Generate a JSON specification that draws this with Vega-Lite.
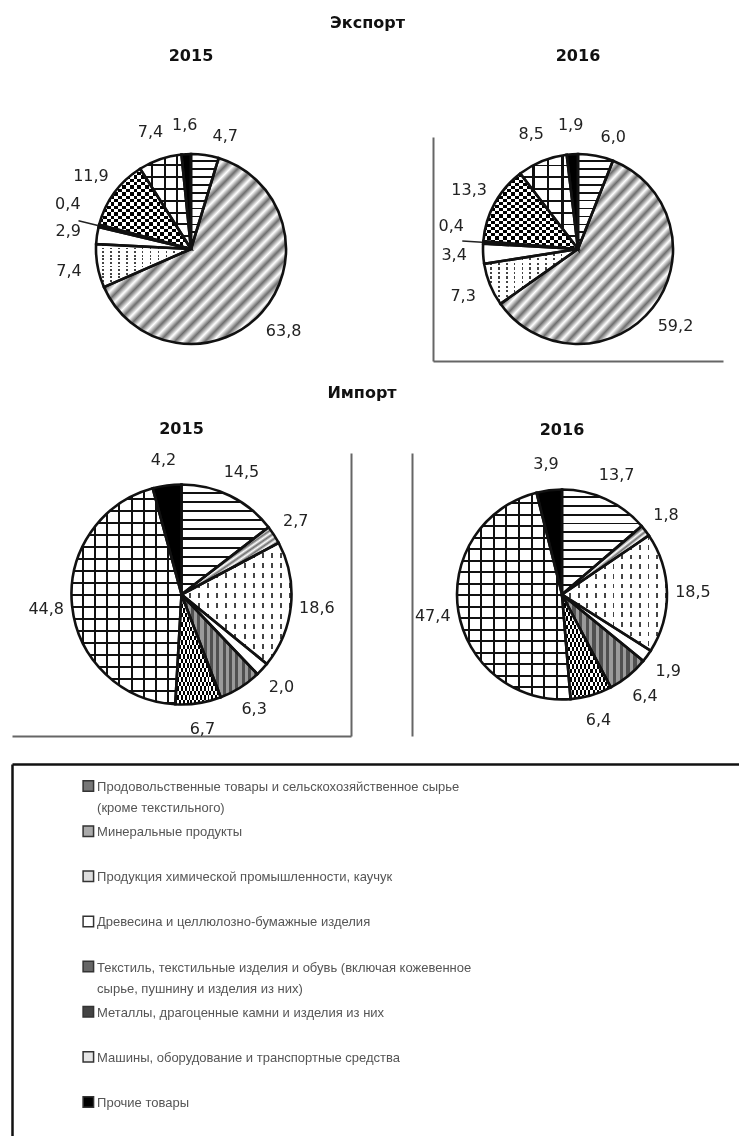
{
"$schema": "https://vega.github.io/schema/vega-lite/v6.json",
"background": "white",
"padding": {"left": 12, "top": 15, "right": 0, "bottom": 0},
"spacing": 21,
"datasets": {
"pies": [
{"chart":"E2015","k":1,"v":4.7,"lbl":"4,7"},{"chart":"E2015","k":2,"v":63.8,"lbl":"63,8"},{"chart":"E2015","k":3,"v":7.4,"lbl":"7,4"},{"chart":"E2015","k":4,"v":2.9,"lbl":"2,9"},{"chart":"E2015","k":5,"v":0.4,"lbl":"0,4"},{"chart":"E2015","k":6,"v":11.9,"lbl":"11,9"},{"chart":"E2015","k":7,"v":7.4,"lbl":"7,4"},{"chart":"E2015","k":8,"v":1.6,"lbl":"1,6"},
{"chart":"E2016","k":1,"v":6.0,"lbl":"6,0"},{"chart":"E2016","k":2,"v":59.2,"lbl":"59,2"},{"chart":"E2016","k":3,"v":7.3,"lbl":"7,3"},{"chart":"E2016","k":4,"v":3.4,"lbl":"3,4"},{"chart":"E2016","k":5,"v":0.4,"lbl":"0,4"},{"chart":"E2016","k":6,"v":13.3,"lbl":"13,3"},{"chart":"E2016","k":7,"v":8.5,"lbl":"8,5"},{"chart":"E2016","k":8,"v":1.9,"lbl":"1,9"},
{"chart":"I2015","k":1,"v":14.5,"lbl":"14,5"},{"chart":"I2015","k":2,"v":2.7,"lbl":"2,7"},{"chart":"I2015","k":3,"v":18.6,"lbl":"18,6"},{"chart":"I2015","k":4,"v":2.0,"lbl":"2,0"},{"chart":"I2015","k":5,"v":6.3,"lbl":"6,3"},{"chart":"I2015","k":6,"v":6.7,"lbl":"6,7"},{"chart":"I2015","k":7,"v":44.8,"lbl":"44,8"},{"chart":"I2015","k":8,"v":4.2,"lbl":"4,2"},
{"chart":"I2016","k":1,"v":13.7,"lbl":"13,7"},{"chart":"I2016","k":2,"v":1.8,"lbl":"1,8"},{"chart":"I2016","k":3,"v":18.5,"lbl":"18,5"},{"chart":"I2016","k":4,"v":1.9,"lbl":"1,9"},{"chart":"I2016","k":5,"v":6.4,"lbl":"6,4"},{"chart":"I2016","k":6,"v":6.4,"lbl":"6,4"},{"chart":"I2016","k":7,"v":47.4,"lbl":"47,4"},{"chart":"I2016","k":8,"v":3.9,"lbl":"3,9"}
],
"leg": [
{"k":1,"name":["Продовольственные товары и сельскохозяйственное сырье","(кроме текстильного)"]},
{"k":2,"name":["Минеральные продукты"]},
{"k":3,"name":["Продукция химической промышленности, каучук"]},
{"k":4,"name":["Древесина и целлюлозно-бумажные изделия"]},
{"k":5,"name":["Текстиль, текстильные изделия и обувь (включая кожевенное","сырье, пушнину и изделия из них)"]},
{"k":6,"name":["Металлы, драгоценные камни и изделия из них"]},
{"k":7,"name":["Машины, оборудование и транспортные средства"]},
{"k":8,"name":["Прочие товары"]}
]
},
"vconcat": [
{
"title": {"text": "Экспорт", "offset": 17},
"spacing": 62,
"hconcat": [
{
"width": 358, "height": 224,
"title": {"text": "2015", "offset": 53},
"data": {"name": "pies"},
"transform": [
{"filter": "datum.chart == 'E2015'"},
{"stack": "v", "groupby": ["chart"], "sort": [{"field": "k", "order": "ascending"}], "as": ["v0", "v1"], "offset": "normalize"},
{"calculate": "(datum.v0 + datum.v1) / 2", "as": "vm"}
],
"layer": [
{"encoding": {"theta": {"field": "v0", "type": "quantitative", "scale": {"domain": [0, 1]}}, "theta2": {"field": "v1"}, "radius": {"value": 95}},
"layer": [
{"transform": [{"filter": "datum.k == 1"}], "mark": {"type": "arc", "style": "p1"}},
{"transform": [{"filter": "datum.k == 2"}], "mark": {"type": "arc", "style": "p2"}},
{"transform": [{"filter": "datum.k == 3"}], "mark": {"type": "arc", "style": "p3"}},
{"transform": [{"filter": "datum.k == 4"}], "mark": {"type": "arc", "style": "p4"}},
{"transform": [{"filter": "datum.k == 5"}], "mark": {"type": "arc", "style": "p5"}},
{"transform": [{"filter": "datum.k == 6"}], "mark": {"type": "arc", "style": "p6"}},
{"transform": [{"filter": "datum.k == 7"}], "mark": {"type": "arc", "style": "p7e"}},
{"transform": [{"filter": "datum.k == 8"}], "mark": {"type": "arc", "style": "p8"}},
{"transform": [{"filter": "datum.k == 3"}], "mark": {"type": "arc", "style": "o3"}},
{"transform": [{"filter": "datum.k == 6"}], "mark": {"type": "arc", "style": "o6"}},
{"transform": [{"filter": "datum.k == 7"}], "mark": {"type": "arc", "style": "o7e"}},
{"mark": {"type": "arc", "fill": "transparent", "stroke": "#111", "strokeWidth": 2.6}}
]},
{"transform": [{"filter": "datum.k != 5 && datum.k != 1"}], "mark": {"type": "text", "font": "DejaVu Sans", "fontSize": 16, "color": "#222"}, "encoding": {"theta": {"field": "vm", "type": "quantitative", "scale": {"domain": [0, 1]}}, "radius": {"value": 124}, "text": {"field": "lbl", "type": "nominal"}}},
{"transform": [{"filter": "datum.k == 1"}], "mark": {"type": "text", "font": "DejaVu Sans", "fontSize": 16, "color": "#222", "dx": 16, "dy": 10}, "encoding": {"theta": {"field": "vm", "type": "quantitative", "scale": {"domain": [0, 1]}}, "radius": {"value": 124}, "text": {"field": "lbl", "type": "nominal"}}},
{"transform": [{"filter": "datum.k == 5"}], "mark": {"type": "text", "font": "DejaVu Sans", "fontSize": 16, "color": "#222", "dy": -14}, "encoding": {"theta": {"field": "vm", "type": "quantitative", "scale": {"domain": [0, 1]}}, "radius": {"value": 127}, "text": {"field": "lbl", "type": "nominal"}}},
{"transform": [{"filter": "datum.k == 5"}], "mark": {"type": "arc", "fill": "transparent", "stroke": "#222", "strokeWidth": 1.5}, "encoding": {"theta": {"field": "vm", "type": "quantitative", "scale": {"domain": [0, 1]}}, "theta2": {"field": "vm"}, "radius": {"value": 116}, "radius2": {"value": 96}}}
]
},
{
"width": 290, "height": 224,
"title": {"text": "2016", "offset": 53},
"data": {"name": "pies"},
"transform": [
{"filter": "datum.chart == 'E2016'"},
{"stack": "v", "groupby": ["chart"], "sort": [{"field": "k", "order": "ascending"}], "as": ["v0", "v1"], "offset": "normalize"},
{"calculate": "(datum.v0 + datum.v1) / 2", "as": "vm"}
],
"layer": [
{"encoding": {"theta": {"field": "v0", "type": "quantitative", "scale": {"domain": [0, 1]}}, "theta2": {"field": "v1"}, "radius": {"value": 95}},
"layer": [
{"transform": [{"filter": "datum.k == 1"}], "mark": {"type": "arc", "style": "p1"}},
{"transform": [{"filter": "datum.k == 2"}], "mark": {"type": "arc", "style": "p2"}},
{"transform": [{"filter": "datum.k == 3"}], "mark": {"type": "arc", "style": "p3"}},
{"transform": [{"filter": "datum.k == 4"}], "mark": {"type": "arc", "style": "p4"}},
{"transform": [{"filter": "datum.k == 5"}], "mark": {"type": "arc", "style": "p5"}},
{"transform": [{"filter": "datum.k == 6"}], "mark": {"type": "arc", "style": "p6"}},
{"transform": [{"filter": "datum.k == 7"}], "mark": {"type": "arc", "style": "p7e"}},
{"transform": [{"filter": "datum.k == 8"}], "mark": {"type": "arc", "style": "p8"}},
{"transform": [{"filter": "datum.k == 3"}], "mark": {"type": "arc", "style": "o3"}},
{"transform": [{"filter": "datum.k == 6"}], "mark": {"type": "arc", "style": "o6"}},
{"transform": [{"filter": "datum.k == 7"}], "mark": {"type": "arc", "style": "o7e"}},
{"mark": {"type": "arc", "fill": "transparent", "stroke": "#111", "strokeWidth": 2.6}}
]},
{"transform": [{"filter": "datum.k != 5 && datum.k != 1"}], "mark": {"type": "text", "font": "DejaVu Sans", "fontSize": 16, "color": "#222"}, "encoding": {"theta": {"field": "vm", "type": "quantitative", "scale": {"domain": [0, 1]}}, "radius": {"value": 124}, "text": {"field": "lbl", "type": "nominal"}}},
{"transform": [{"filter": "datum.k == 1"}], "mark": {"type": "text", "font": "DejaVu Sans", "fontSize": 16, "color": "#222", "dx": 12, "dy": 10}, "encoding": {"theta": {"field": "vm", "type": "quantitative", "scale": {"domain": [0, 1]}}, "radius": {"value": 124}, "text": {"field": "lbl", "type": "nominal"}}},
{"transform": [{"filter": "datum.k == 5"}], "mark": {"type": "text", "font": "DejaVu Sans", "fontSize": 16, "color": "#222", "dy": -14}, "encoding": {"theta": {"field": "vm", "type": "quantitative", "scale": {"domain": [0, 1]}}, "radius": {"value": 127}, "text": {"field": "lbl", "type": "nominal"}}},
{"transform": [{"filter": "datum.k == 5"}], "mark": {"type": "arc", "fill": "transparent", "stroke": "#222", "strokeWidth": 1.5}, "encoding": {"theta": {"field": "vm", "type": "quantitative", "scale": {"domain": [0, 1]}}, "theta2": {"field": "vm"}, "radius": {"value": 116}, "radius2": {"value": 96}}},
{"mark": {"type": "point", "opacity": 0}, "encoding": {"x": {"field": "v", "type": "quantitative", "axis": {"orient": "bottom", "title": null}}, "y": {"field": "v", "type": "quantitative", "axis": {"orient": "left", "title": null}}}}
]
}
]
},
{
"title": {"text": "Импорт", "offset": 20},
"spacing": 59,
"hconcat": [
{
"width": 339, "height": 283,
"title": {"text": "2015", "offset": 15},
"data": {"name": "pies"},
"transform": [
{"filter": "datum.chart == 'I2015'"},
{"stack": "v", "groupby": ["chart"], "sort": [{"field": "k", "order": "ascending"}], "as": ["v0", "v1"], "offset": "normalize"},
{"calculate": "(datum.v0 + datum.v1) / 2", "as": "vm"}
],
"layer": [
{"encoding": {"theta": {"field": "v0", "type": "quantitative", "scale": {"domain": [0, 1]}}, "theta2": {"field": "v1"}, "radius": {"value": 110}},
"layer": [
{"transform": [{"filter": "datum.k == 1"}], "mark": {"type": "arc", "style": "p1"}},
{"transform": [{"filter": "datum.k == 2"}], "mark": {"type": "arc", "style": "p2"}},
{"transform": [{"filter": "datum.k == 3"}], "mark": {"type": "arc", "style": "p3"}},
{"transform": [{"filter": "datum.k == 4"}], "mark": {"type": "arc", "style": "p4"}},
{"transform": [{"filter": "datum.k == 5"}], "mark": {"type": "arc", "style": "p5"}},
{"transform": [{"filter": "datum.k == 6"}], "mark": {"type": "arc", "style": "p6"}},
{"transform": [{"filter": "datum.k == 7"}], "mark": {"type": "arc", "style": "p7i"}},
{"transform": [{"filter": "datum.k == 8"}], "mark": {"type": "arc", "style": "p8"}},
{"transform": [{"filter": "datum.k == 3"}], "mark": {"type": "arc", "style": "o3"}},
{"transform": [{"filter": "datum.k == 6"}], "mark": {"type": "arc", "style": "o6"}},
{"transform": [{"filter": "datum.k == 7"}], "mark": {"type": "arc", "style": "o7i"}},
{"mark": {"type": "arc", "fill": "transparent", "stroke": "#111", "strokeWidth": 2.6}}
]},
{"mark": {"type": "text", "font": "DejaVu Sans", "fontSize": 16, "color": "#222"}, "encoding": {"theta": {"field": "vm", "type": "quantitative", "scale": {"domain": [0, 1]}}, "radius": {"value": 136}, "text": {"field": "lbl", "type": "nominal"}}},
{"mark": {"type": "point", "opacity": 0}, "encoding": {"x": {"field": "v", "type": "quantitative", "axis": {"orient": "bottom", "title": null}}, "y": {"field": "v", "type": "quantitative", "axis": {"orient": "right", "title": null}}}}
]
},
{
"width": 300, "height": 283,
"title": {"text": "2016", "offset": 15},
"data": {"name": "pies"},
"transform": [
{"filter": "datum.chart == 'I2016'"},
{"stack": "v", "groupby": ["chart"], "sort": [{"field": "k", "order": "ascending"}], "as": ["v0", "v1"], "offset": "normalize"},
{"calculate": "(datum.v0 + datum.v1) / 2", "as": "vm"}
],
"layer": [
{"encoding": {"theta": {"field": "v0", "type": "quantitative", "scale": {"domain": [0, 1]}}, "theta2": {"field": "v1"}, "radius": {"value": 105}},
"layer": [
{"transform": [{"filter": "datum.k == 1"}], "mark": {"type": "arc", "style": "p1"}},
{"transform": [{"filter": "datum.k == 2"}], "mark": {"type": "arc", "style": "p2"}},
{"transform": [{"filter": "datum.k == 3"}], "mark": {"type": "arc", "style": "p3"}},
{"transform": [{"filter": "datum.k == 4"}], "mark": {"type": "arc", "style": "p4"}},
{"transform": [{"filter": "datum.k == 5"}], "mark": {"type": "arc", "style": "p5"}},
{"transform": [{"filter": "datum.k == 6"}], "mark": {"type": "arc", "style": "p6"}},
{"transform": [{"filter": "datum.k == 7"}], "mark": {"type": "arc", "style": "p7i"}},
{"transform": [{"filter": "datum.k == 8"}], "mark": {"type": "arc", "style": "p8"}},
{"transform": [{"filter": "datum.k == 3"}], "mark": {"type": "arc", "style": "o3"}},
{"transform": [{"filter": "datum.k == 6"}], "mark": {"type": "arc", "style": "o6"}},
{"transform": [{"filter": "datum.k == 7"}], "mark": {"type": "arc", "style": "o7i"}},
{"mark": {"type": "arc", "fill": "transparent", "stroke": "#111", "strokeWidth": 2.6}}
]},
{"mark": {"type": "text", "font": "DejaVu Sans", "fontSize": 16, "color": "#222"}, "encoding": {"theta": {"field": "vm", "type": "quantitative", "scale": {"domain": [0, 1]}}, "radius": {"value": 131}, "text": {"field": "lbl", "type": "nominal"}}},
{"mark": {"type": "point", "opacity": 0}, "encoding": {"y": {"field": "v", "type": "quantitative", "axis": {"orient": "left", "title": null}}}}
]
}
]
},
{
"width": 727, "height": 372,
"data": {"name": "leg"},
"encoding": {"y": {"field": "k", "type": "ordinal", "scale": {"type": "point", "padding": 0.62, "align": 0.393}, "axis": {"orient": "left", "title": null, "domainColor": "#111", "domainWidth": 2.5}}},
"layer": [
{"mark": {"type": "square", "size": 110, "stroke": "#333", "strokeWidth": 1.5, "opacity": 1}, "encoding": {"x": {"datum": 0.105, "type": "quantitative", "scale": {"domain": [0, 1]}, "axis": {"orient": "top", "title": null, "domainColor": "#111", "domainWidth": 2.5, "minExtent": 6}}, "fill": {"field": "k", "type": "nominal", "scale": {"range": ["#777", "#aaa", "#ddd", "#fff", "#666", "#444", "#e6e6e6", "#000"]}, "legend": null}}},
{"mark": {"type": "text", "align": "left", "baseline": "alphabetic", "dy": 5, "font": "Liberation Sans", "fontSize": 13, "lineHeight": 21, "color": "#555"}, "encoding": {"x": {"datum": 0.117, "type": "quantitative"}, "text": {"field": "name", "type": "nominal"}}}
]
}
],
"config": {
"view": {"stroke": null},
"font": "DejaVu Sans",
"title": {"font": "DejaVu Sans", "fontSize": 16, "fontWeight": "bold", "color": "#111", "anchor": "middle"},
"axis": {"labels": false, "ticks": false, "grid": false, "domainColor": "#666", "domainWidth": 2},
"style": {
"p1": {"color": {"gradient": "linear", "x1": 0, "y1": 0, "x2": 0, "y2": 1, "stops": [{"offset":0,"color":"#fff"},{"offset":0.065,"color":"#fff"},{"offset":0.065,"color":"#111"},{"offset":0.0833,"color":"#111"},{"offset":0.0833,"color":"#fff"},{"offset":0.1483,"color":"#fff"},{"offset":0.1483,"color":"#111"},{"offset":0.1667,"color":"#111"},{"offset":0.1667,"color":"#fff"},{"offset":0.2317,"color":"#fff"},{"offset":0.2317,"color":"#111"},{"offset":0.25,"color":"#111"},{"offset":0.25,"color":"#fff"},{"offset":0.315,"color":"#fff"},{"offset":0.315,"color":"#111"},{"offset":0.3333,"color":"#111"},{"offset":0.3333,"color":"#fff"},{"offset":0.3983,"color":"#fff"},{"offset":0.3983,"color":"#111"},{"offset":0.4167,"color":"#111"},{"offset":0.4167,"color":"#fff"},{"offset":0.4817,"color":"#fff"},{"offset":0.4817,"color":"#111"},{"offset":0.5,"color":"#111"},{"offset":0.5,"color":"#fff"},{"offset":0.565,"color":"#fff"},{"offset":0.565,"color":"#111"},{"offset":0.5833,"color":"#111"},{"offset":0.5833,"color":"#fff"},{"offset":0.6483,"color":"#fff"},{"offset":0.6483,"color":"#111"},{"offset":0.6667,"color":"#111"},{"offset":0.6667,"color":"#fff"},{"offset":0.7317,"color":"#fff"},{"offset":0.7317,"color":"#111"},{"offset":0.75,"color":"#111"},{"offset":0.75,"color":"#fff"},{"offset":0.815,"color":"#fff"},{"offset":0.815,"color":"#111"},{"offset":0.8333,"color":"#111"},{"offset":0.8333,"color":"#fff"},{"offset":0.8983,"color":"#fff"},{"offset":0.8983,"color":"#111"},{"offset":0.9167,"color":"#111"},{"offset":0.9167,"color":"#fff"},{"offset":0.9817,"color":"#fff"},{"offset":0.9817,"color":"#111"},{"offset":1,"color":"#111"}]}},
"p2": {"color": {"gradient": "linear", "x1": 0, "y1": 0, "x2": 1, "y2": 1, "stops": [{"offset":0,"color":"#fff"},{"offset":0.0208,"color":"#6e6e6e"},{"offset":0.0417,"color":"#fff"},{"offset":0.0625,"color":"#6e6e6e"},{"offset":0.0833,"color":"#fff"},{"offset":0.1042,"color":"#6e6e6e"},{"offset":0.125,"color":"#fff"},{"offset":0.1458,"color":"#6e6e6e"},{"offset":0.1667,"color":"#fff"},{"offset":0.1875,"color":"#6e6e6e"},{"offset":0.2083,"color":"#fff"},{"offset":0.2292,"color":"#6e6e6e"},{"offset":0.25,"color":"#fff"},{"offset":0.2708,"color":"#6e6e6e"},{"offset":0.2917,"color":"#fff"},{"offset":0.3125,"color":"#6e6e6e"},{"offset":0.3333,"color":"#fff"},{"offset":0.3542,"color":"#6e6e6e"},{"offset":0.375,"color":"#fff"},{"offset":0.3958,"color":"#6e6e6e"},{"offset":0.4167,"color":"#fff"},{"offset":0.4375,"color":"#6e6e6e"},{"offset":0.4583,"color":"#fff"},{"offset":0.4792,"color":"#6e6e6e"},{"offset":0.5,"color":"#fff"},{"offset":0.5208,"color":"#6e6e6e"},{"offset":0.5417,"color":"#fff"},{"offset":0.5625,"color":"#6e6e6e"},{"offset":0.5833,"color":"#fff"},{"offset":0.6042,"color":"#6e6e6e"},{"offset":0.625,"color":"#fff"},{"offset":0.6458,"color":"#6e6e6e"},{"offset":0.6667,"color":"#fff"},{"offset":0.6875,"color":"#6e6e6e"},{"offset":0.7083,"color":"#fff"},{"offset":0.7292,"color":"#6e6e6e"},{"offset":0.75,"color":"#fff"},{"offset":0.7708,"color":"#6e6e6e"},{"offset":0.7917,"color":"#fff"},{"offset":0.8125,"color":"#6e6e6e"},{"offset":0.8333,"color":"#fff"},{"offset":0.8542,"color":"#6e6e6e"},{"offset":0.875,"color":"#fff"},{"offset":0.8958,"color":"#6e6e6e"},{"offset":0.9167,"color":"#fff"},{"offset":0.9375,"color":"#6e6e6e"},{"offset":0.9583,"color":"#fff"},{"offset":0.9792,"color":"#6e6e6e"},{"offset":1,"color":"#fff"}]}},
"p3": {"color": {"gradient": "linear", "x1": 0, "y1": 0, "x2": 1, "y2": 0, "stops": [{"offset":0,"color":"#fff"},{"offset":0.065,"color":"#fff"},{"offset":0.065,"color":"#444"},{"offset":0.0833,"color":"#444"},{"offset":0.0833,"color":"#fff"},{"offset":0.1483,"color":"#fff"},{"offset":0.1483,"color":"#444"},{"offset":0.1667,"color":"#444"},{"offset":0.1667,"color":"#fff"},{"offset":0.2317,"color":"#fff"},{"offset":0.2317,"color":"#444"},{"offset":0.25,"color":"#444"},{"offset":0.25,"color":"#fff"},{"offset":0.315,"color":"#fff"},{"offset":0.315,"color":"#444"},{"offset":0.3333,"color":"#444"},{"offset":0.3333,"color":"#fff"},{"offset":0.3983,"color":"#fff"},{"offset":0.3983,"color":"#444"},{"offset":0.4167,"color":"#444"},{"offset":0.4167,"color":"#fff"},{"offset":0.4817,"color":"#fff"},{"offset":0.4817,"color":"#444"},{"offset":0.5,"color":"#444"},{"offset":0.5,"color":"#fff"},{"offset":0.565,"color":"#fff"},{"offset":0.565,"color":"#444"},{"offset":0.5833,"color":"#444"},{"offset":0.5833,"color":"#fff"},{"offset":0.6483,"color":"#fff"},{"offset":0.6483,"color":"#444"},{"offset":0.6667,"color":"#444"},{"offset":0.6667,"color":"#fff"},{"offset":0.7317,"color":"#fff"},{"offset":0.7317,"color":"#444"},{"offset":0.75,"color":"#444"},{"offset":0.75,"color":"#fff"},{"offset":0.815,"color":"#fff"},{"offset":0.815,"color":"#444"},{"offset":0.8333,"color":"#444"},{"offset":0.8333,"color":"#fff"},{"offset":0.8983,"color":"#fff"},{"offset":0.8983,"color":"#444"},{"offset":0.9167,"color":"#444"},{"offset":0.9167,"color":"#fff"},{"offset":0.9817,"color":"#fff"},{"offset":0.9817,"color":"#444"},{"offset":1,"color":"#444"}]}},
"p4": {"color": "#fff"},
"p5": {"color": {"gradient": "linear", "x1": 0, "y1": 0, "x2": 1, "y2": 0, "stops": [{"offset":0,"color":"#9a9a9a"},{"offset":0.0417,"color":"#9a9a9a"},{"offset":0.0417,"color":"#505050"},{"offset":0.0833,"color":"#505050"},{"offset":0.0833,"color":"#9a9a9a"},{"offset":0.125,"color":"#9a9a9a"},{"offset":0.125,"color":"#505050"},{"offset":0.1667,"color":"#505050"},{"offset":0.1667,"color":"#9a9a9a"},{"offset":0.2083,"color":"#9a9a9a"},{"offset":0.2083,"color":"#505050"},{"offset":0.25,"color":"#505050"},{"offset":0.25,"color":"#9a9a9a"},{"offset":0.2917,"color":"#9a9a9a"},{"offset":0.2917,"color":"#505050"},{"offset":0.3333,"color":"#505050"},{"offset":0.3333,"color":"#9a9a9a"},{"offset":0.375,"color":"#9a9a9a"},{"offset":0.375,"color":"#505050"},{"offset":0.4167,"color":"#505050"},{"offset":0.4167,"color":"#9a9a9a"},{"offset":0.4583,"color":"#9a9a9a"},{"offset":0.4583,"color":"#505050"},{"offset":0.5,"color":"#505050"},{"offset":0.5,"color":"#9a9a9a"},{"offset":0.5417,"color":"#9a9a9a"},{"offset":0.5417,"color":"#505050"},{"offset":0.5833,"color":"#505050"},{"offset":0.5833,"color":"#9a9a9a"},{"offset":0.625,"color":"#9a9a9a"},{"offset":0.625,"color":"#505050"},{"offset":0.6667,"color":"#505050"},{"offset":0.6667,"color":"#9a9a9a"},{"offset":0.7083,"color":"#9a9a9a"},{"offset":0.7083,"color":"#505050"},{"offset":0.75,"color":"#505050"},{"offset":0.75,"color":"#9a9a9a"},{"offset":0.7917,"color":"#9a9a9a"},{"offset":0.7917,"color":"#505050"},{"offset":0.8333,"color":"#505050"},{"offset":0.8333,"color":"#9a9a9a"},{"offset":0.875,"color":"#9a9a9a"},{"offset":0.875,"color":"#505050"},{"offset":0.9167,"color":"#505050"},{"offset":0.9167,"color":"#9a9a9a"},{"offset":0.9583,"color":"#9a9a9a"},{"offset":0.9583,"color":"#505050"},{"offset":1,"color":"#505050"}]}},
"p6": {"color": {"gradient": "linear", "x1": 0, "y1": 0, "x2": 1, "y2": 0, "stops": [{"offset":0,"color":"#fff"},{"offset":0.0417,"color":"#fff"},{"offset":0.0417,"color":"#000"},{"offset":0.0833,"color":"#000"},{"offset":0.0833,"color":"#fff"},{"offset":0.125,"color":"#fff"},{"offset":0.125,"color":"#000"},{"offset":0.1667,"color":"#000"},{"offset":0.1667,"color":"#fff"},{"offset":0.2083,"color":"#fff"},{"offset":0.2083,"color":"#000"},{"offset":0.25,"color":"#000"},{"offset":0.25,"color":"#fff"},{"offset":0.2917,"color":"#fff"},{"offset":0.2917,"color":"#000"},{"offset":0.3333,"color":"#000"},{"offset":0.3333,"color":"#fff"},{"offset":0.375,"color":"#fff"},{"offset":0.375,"color":"#000"},{"offset":0.4167,"color":"#000"},{"offset":0.4167,"color":"#fff"},{"offset":0.4583,"color":"#fff"},{"offset":0.4583,"color":"#000"},{"offset":0.5,"color":"#000"},{"offset":0.5,"color":"#fff"},{"offset":0.5417,"color":"#fff"},{"offset":0.5417,"color":"#000"},{"offset":0.5833,"color":"#000"},{"offset":0.5833,"color":"#fff"},{"offset":0.625,"color":"#fff"},{"offset":0.625,"color":"#000"},{"offset":0.6667,"color":"#000"},{"offset":0.6667,"color":"#fff"},{"offset":0.7083,"color":"#fff"},{"offset":0.7083,"color":"#000"},{"offset":0.75,"color":"#000"},{"offset":0.75,"color":"#fff"},{"offset":0.7917,"color":"#fff"},{"offset":0.7917,"color":"#000"},{"offset":0.8333,"color":"#000"},{"offset":0.8333,"color":"#fff"},{"offset":0.875,"color":"#fff"},{"offset":0.875,"color":"#000"},{"offset":0.9167,"color":"#000"},{"offset":0.9167,"color":"#fff"},{"offset":0.9583,"color":"#fff"},{"offset":0.9583,"color":"#000"},{"offset":1,"color":"#000"}]}},
"p7e": {"color": {"gradient": "linear", "x1": 0, "y1": 0, "x2": 1, "y2": 0, "stops": [{"offset":0,"color":"#fff"},{"offset":0.21,"color":"#fff"},{"offset":0.21,"color":"#111"},{"offset":0.25,"color":"#111"},{"offset":0.25,"color":"#fff"},{"offset":0.46,"color":"#fff"},{"offset":0.46,"color":"#111"},{"offset":0.5,"color":"#111"},{"offset":0.5,"color":"#fff"},{"offset":0.71,"color":"#fff"},{"offset":0.71,"color":"#111"},{"offset":0.75,"color":"#111"},{"offset":0.75,"color":"#fff"},{"offset":0.96,"color":"#fff"},{"offset":0.96,"color":"#111"},{"offset":1,"color":"#111"}]}},
"p7i": {"color": {"gradient": "linear", "x1": 0, "y1": 0, "x2": 1, "y2": 0, "stops": [{"offset":0,"color":"#fff"},{"offset":0.093,"color":"#fff"},{"offset":0.093,"color":"#111"},{"offset":0.1111,"color":"#111"},{"offset":0.1111,"color":"#fff"},{"offset":0.2041,"color":"#fff"},{"offset":0.2041,"color":"#111"},{"offset":0.2222,"color":"#111"},{"offset":0.2222,"color":"#fff"},{"offset":0.3152,"color":"#fff"},{"offset":0.3152,"color":"#111"},{"offset":0.3333,"color":"#111"},{"offset":0.3333,"color":"#fff"},{"offset":0.4263,"color":"#fff"},{"offset":0.4263,"color":"#111"},{"offset":0.4444,"color":"#111"},{"offset":0.4444,"color":"#fff"},{"offset":0.5374,"color":"#fff"},{"offset":0.5374,"color":"#111"},{"offset":0.5556,"color":"#111"},{"offset":0.5556,"color":"#fff"},{"offset":0.6486,"color":"#fff"},{"offset":0.6486,"color":"#111"},{"offset":0.6667,"color":"#111"},{"offset":0.6667,"color":"#fff"},{"offset":0.7597,"color":"#fff"},{"offset":0.7597,"color":"#111"},{"offset":0.7778,"color":"#111"},{"offset":0.7778,"color":"#fff"},{"offset":0.8708,"color":"#fff"},{"offset":0.8708,"color":"#111"},{"offset":0.8889,"color":"#111"},{"offset":0.8889,"color":"#fff"},{"offset":0.9819,"color":"#fff"},{"offset":0.9819,"color":"#111"},{"offset":1,"color":"#111"}]}},
"p8": {"color": "#000"},
"o3": {"color": {"gradient": "linear", "x1": 0, "y1": 0, "x2": 0, "y2": 1, "stops": [{"offset":0,"color":"rgba(255,255,255,0)"},{"offset":0.0417,"color":"rgba(255,255,255,0)"},{"offset":0.0417,"color":"#fff"},{"offset":0.0833,"color":"#fff"},{"offset":0.0833,"color":"rgba(255,255,255,0)"},{"offset":0.125,"color":"rgba(255,255,255,0)"},{"offset":0.125,"color":"#fff"},{"offset":0.1667,"color":"#fff"},{"offset":0.1667,"color":"rgba(255,255,255,0)"},{"offset":0.2083,"color":"rgba(255,255,255,0)"},{"offset":0.2083,"color":"#fff"},{"offset":0.25,"color":"#fff"},{"offset":0.25,"color":"rgba(255,255,255,0)"},{"offset":0.2917,"color":"rgba(255,255,255,0)"},{"offset":0.2917,"color":"#fff"},{"offset":0.3333,"color":"#fff"},{"offset":0.3333,"color":"rgba(255,255,255,0)"},{"offset":0.375,"color":"rgba(255,255,255,0)"},{"offset":0.375,"color":"#fff"},{"offset":0.4167,"color":"#fff"},{"offset":0.4167,"color":"rgba(255,255,255,0)"},{"offset":0.4583,"color":"rgba(255,255,255,0)"},{"offset":0.4583,"color":"#fff"},{"offset":0.5,"color":"#fff"},{"offset":0.5,"color":"rgba(255,255,255,0)"},{"offset":0.5417,"color":"rgba(255,255,255,0)"},{"offset":0.5417,"color":"#fff"},{"offset":0.5833,"color":"#fff"},{"offset":0.5833,"color":"rgba(255,255,255,0)"},{"offset":0.625,"color":"rgba(255,255,255,0)"},{"offset":0.625,"color":"#fff"},{"offset":0.6667,"color":"#fff"},{"offset":0.6667,"color":"rgba(255,255,255,0)"},{"offset":0.7083,"color":"rgba(255,255,255,0)"},{"offset":0.7083,"color":"#fff"},{"offset":0.75,"color":"#fff"},{"offset":0.75,"color":"rgba(255,255,255,0)"},{"offset":0.7917,"color":"rgba(255,255,255,0)"},{"offset":0.7917,"color":"#fff"},{"offset":0.8333,"color":"#fff"},{"offset":0.8333,"color":"rgba(255,255,255,0)"},{"offset":0.875,"color":"rgba(255,255,255,0)"},{"offset":0.875,"color":"#fff"},{"offset":0.9167,"color":"#fff"},{"offset":0.9167,"color":"rgba(255,255,255,0)"},{"offset":0.9583,"color":"rgba(255,255,255,0)"},{"offset":0.9583,"color":"#fff"},{"offset":1,"color":"#fff"}]}},
"o6": {"blend": "difference", "color": {"gradient": "linear", "x1": 0, "y1": 0, "x2": 0, "y2": 1, "stops": [{"offset":0,"color":"rgba(255,255,255,0)"},{"offset":0.0417,"color":"rgba(255,255,255,0)"},{"offset":0.0417,"color":"#fff"},{"offset":0.0833,"color":"#fff"},{"offset":0.0833,"color":"rgba(255,255,255,0)"},{"offset":0.125,"color":"rgba(255,255,255,0)"},{"offset":0.125,"color":"#fff"},{"offset":0.1667,"color":"#fff"},{"offset":0.1667,"color":"rgba(255,255,255,0)"},{"offset":0.2083,"color":"rgba(255,255,255,0)"},{"offset":0.2083,"color":"#fff"},{"offset":0.25,"color":"#fff"},{"offset":0.25,"color":"rgba(255,255,255,0)"},{"offset":0.2917,"color":"rgba(255,255,255,0)"},{"offset":0.2917,"color":"#fff"},{"offset":0.3333,"color":"#fff"},{"offset":0.3333,"color":"rgba(255,255,255,0)"},{"offset":0.375,"color":"rgba(255,255,255,0)"},{"offset":0.375,"color":"#fff"},{"offset":0.4167,"color":"#fff"},{"offset":0.4167,"color":"rgba(255,255,255,0)"},{"offset":0.4583,"color":"rgba(255,255,255,0)"},{"offset":0.4583,"color":"#fff"},{"offset":0.5,"color":"#fff"},{"offset":0.5,"color":"rgba(255,255,255,0)"},{"offset":0.5417,"color":"rgba(255,255,255,0)"},{"offset":0.5417,"color":"#fff"},{"offset":0.5833,"color":"#fff"},{"offset":0.5833,"color":"rgba(255,255,255,0)"},{"offset":0.625,"color":"rgba(255,255,255,0)"},{"offset":0.625,"color":"#fff"},{"offset":0.6667,"color":"#fff"},{"offset":0.6667,"color":"rgba(255,255,255,0)"},{"offset":0.7083,"color":"rgba(255,255,255,0)"},{"offset":0.7083,"color":"#fff"},{"offset":0.75,"color":"#fff"},{"offset":0.75,"color":"rgba(255,255,255,0)"},{"offset":0.7917,"color":"rgba(255,255,255,0)"},{"offset":0.7917,"color":"#fff"},{"offset":0.8333,"color":"#fff"},{"offset":0.8333,"color":"rgba(255,255,255,0)"},{"offset":0.875,"color":"rgba(255,255,255,0)"},{"offset":0.875,"color":"#fff"},{"offset":0.9167,"color":"#fff"},{"offset":0.9167,"color":"rgba(255,255,255,0)"},{"offset":0.9583,"color":"rgba(255,255,255,0)"},{"offset":0.9583,"color":"#fff"},{"offset":1,"color":"#fff"}]}},
"o7e": {"color": {"gradient": "linear", "x1": 0, "y1": 0, "x2": 0, "y2": 1, "stops": [{"offset":0,"color":"rgba(0,0,0,0)"},{"offset":0.105,"color":"rgba(0,0,0,0)"},{"offset":0.105,"color":"#111"},{"offset":0.125,"color":"#111"},{"offset":0.125,"color":"rgba(0,0,0,0)"},{"offset":0.23,"color":"rgba(0,0,0,0)"},{"offset":0.23,"color":"#111"},{"offset":0.25,"color":"#111"},{"offset":0.25,"color":"rgba(0,0,0,0)"},{"offset":0.355,"color":"rgba(0,0,0,0)"},{"offset":0.355,"color":"#111"},{"offset":0.375,"color":"#111"},{"offset":0.375,"color":"rgba(0,0,0,0)"},{"offset":0.48,"color":"rgba(0,0,0,0)"},{"offset":0.48,"color":"#111"},{"offset":0.5,"color":"#111"},{"offset":0.5,"color":"rgba(0,0,0,0)"},{"offset":0.605,"color":"rgba(0,0,0,0)"},{"offset":0.605,"color":"#111"},{"offset":0.625,"color":"#111"},{"offset":0.625,"color":"rgba(0,0,0,0)"},{"offset":0.73,"color":"rgba(0,0,0,0)"},{"offset":0.73,"color":"#111"},{"offset":0.75,"color":"#111"},{"offset":0.75,"color":"rgba(0,0,0,0)"},{"offset":0.855,"color":"rgba(0,0,0,0)"},{"offset":0.855,"color":"#111"},{"offset":0.875,"color":"#111"},{"offset":0.875,"color":"rgba(0,0,0,0)"},{"offset":0.98,"color":"rgba(0,0,0,0)"},{"offset":0.98,"color":"#111"},{"offset":1,"color":"#111"}]}},
"o7i": {"color": {"gradient": "linear", "x1": 0, "y1": 0, "x2": 0, "y2": 1, "stops": [{"offset":0,"color":"rgba(0,0,0,0)"},{"offset":0.0466,"color":"rgba(0,0,0,0)"},{"offset":0.0466,"color":"#111"},{"offset":0.0556,"color":"#111"},{"offset":0.0556,"color":"rgba(0,0,0,0)"},{"offset":0.1022,"color":"rgba(0,0,0,0)"},{"offset":0.1022,"color":"#111"},{"offset":0.1111,"color":"#111"},{"offset":0.1111,"color":"rgba(0,0,0,0)"},{"offset":0.1577,"color":"rgba(0,0,0,0)"},{"offset":0.1577,"color":"#111"},{"offset":0.1667,"color":"#111"},{"offset":0.1667,"color":"rgba(0,0,0,0)"},{"offset":0.2133,"color":"rgba(0,0,0,0)"},{"offset":0.2133,"color":"#111"},{"offset":0.2222,"color":"#111"},{"offset":0.2222,"color":"rgba(0,0,0,0)"},{"offset":0.2688,"color":"rgba(0,0,0,0)"},{"offset":0.2688,"color":"#111"},{"offset":0.2778,"color":"#111"},{"offset":0.2778,"color":"rgba(0,0,0,0)"},{"offset":0.3244,"color":"rgba(0,0,0,0)"},{"offset":0.3244,"color":"#111"},{"offset":0.3333,"color":"#111"},{"offset":0.3333,"color":"rgba(0,0,0,0)"},{"offset":0.3799,"color":"rgba(0,0,0,0)"},{"offset":0.3799,"color":"#111"},{"offset":0.3889,"color":"#111"},{"offset":0.3889,"color":"rgba(0,0,0,0)"},{"offset":0.4355,"color":"rgba(0,0,0,0)"},{"offset":0.4355,"color":"#111"},{"offset":0.4444,"color":"#111"},{"offset":0.4444,"color":"rgba(0,0,0,0)"},{"offset":0.491,"color":"rgba(0,0,0,0)"},{"offset":0.491,"color":"#111"},{"offset":0.5,"color":"#111"},{"offset":0.5,"color":"rgba(0,0,0,0)"},{"offset":0.5466,"color":"rgba(0,0,0,0)"},{"offset":0.5466,"color":"#111"},{"offset":0.5556,"color":"#111"},{"offset":0.5556,"color":"rgba(0,0,0,0)"},{"offset":0.6022,"color":"rgba(0,0,0,0)"},{"offset":0.6022,"color":"#111"},{"offset":0.6111,"color":"#111"},{"offset":0.6111,"color":"rgba(0,0,0,0)"},{"offset":0.6577,"color":"rgba(0,0,0,0)"},{"offset":0.6577,"color":"#111"},{"offset":0.6667,"color":"#111"},{"offset":0.6667,"color":"rgba(0,0,0,0)"},{"offset":0.7133,"color":"rgba(0,0,0,0)"},{"offset":0.7133,"color":"#111"},{"offset":0.7222,"color":"#111"},{"offset":0.7222,"color":"rgba(0,0,0,0)"},{"offset":0.7688,"color":"rgba(0,0,0,0)"},{"offset":0.7688,"color":"#111"},{"offset":0.7778,"color":"#111"},{"offset":0.7778,"color":"rgba(0,0,0,0)"},{"offset":0.8244,"color":"rgba(0,0,0,0)"},{"offset":0.8244,"color":"#111"},{"offset":0.8333,"color":"#111"},{"offset":0.8333,"color":"rgba(0,0,0,0)"},{"offset":0.8799,"color":"rgba(0,0,0,0)"},{"offset":0.8799,"color":"#111"},{"offset":0.8889,"color":"#111"},{"offset":0.8889,"color":"rgba(0,0,0,0)"},{"offset":0.9355,"color":"rgba(0,0,0,0)"},{"offset":0.9355,"color":"#111"},{"offset":0.9444,"color":"#111"},{"offset":0.9444,"color":"rgba(0,0,0,0)"},{"offset":0.991,"color":"rgba(0,0,0,0)"},{"offset":0.991,"color":"#111"},{"offset":1,"color":"#111"}]}}
}
}
}
